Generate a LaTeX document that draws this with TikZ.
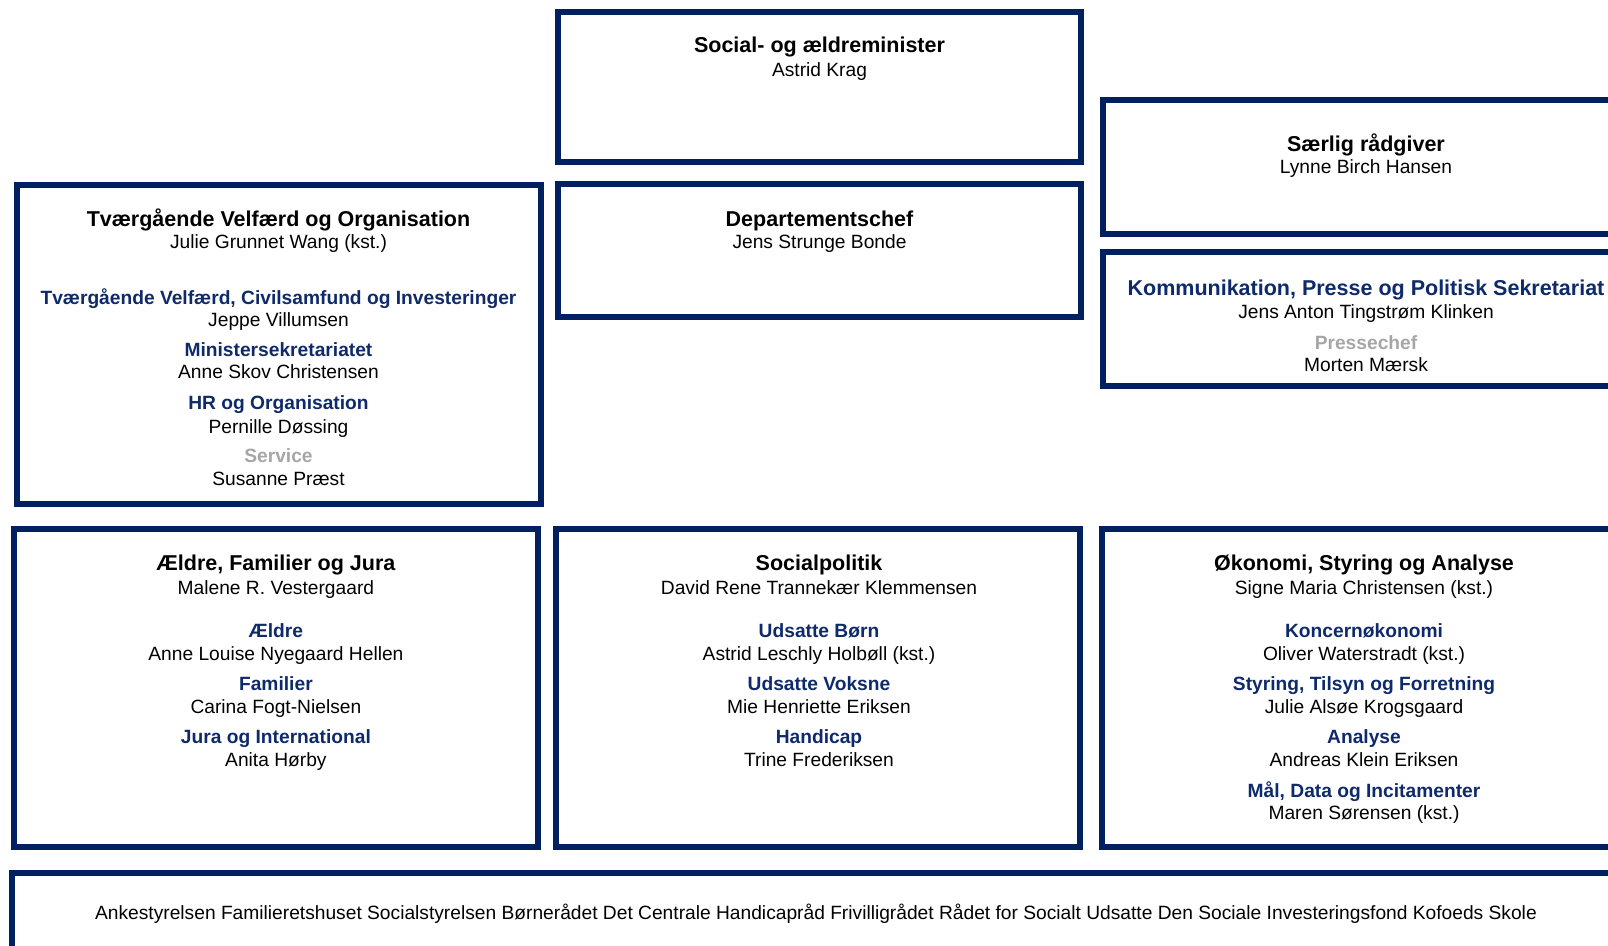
\documentclass[tikz,border=0pt]{standalone}
\usepackage{fontspec}
\setmainfont{Liberation Sans}
\definecolor{navy}{HTML}{002060}
\definecolor{subblue}{HTML}{0E2A6B}
\definecolor{greytxt}{HTML}{A6A6A6}
\tikzset{
 orgbox/.style={draw=navy, line width=6pt, inner sep=0pt, outer sep=0pt},
 ttl/.style={anchor=base, inner sep=0pt, yshift=-1.5pt, font=\fontsize{21.5}{26}\selectfont\bfseries},
 nm/.style={anchor=base, inner sep=0pt, yshift=-1.5pt, font=\fontsize{19.2}{23}\selectfont},
 sub/.style={anchor=base, inner sep=0pt, yshift=-1.5pt, text=subblue, font=\fontsize{19.2}{23}\selectfont\bfseries},
 bigsub/.style={anchor=base, inner sep=0pt, yshift=-1.5pt, text=subblue, font=\fontsize{21.5}{26}\selectfont\bfseries},
 gsub/.style={sub, text=greytxt},
}
\begin{document}
\begin{tikzpicture}[x=1pt,y=-1pt]
\useasboundingbox (0,0) rectangle (1608,945);
\clip (0,0) rectangle (1608,945);
% boxes
\node[orgbox, minimum width=523.6pt, minimum height=149.7pt] (minbox) at (819.5,86.9) {};
\node[orgbox, minimum width=523.6pt, minimum height=133.3pt] (deptbox) at (819.5,250.35) {};
\node[orgbox, minimum width=526pt, minimum height=133.6pt] (saerbox) at (1366,167.1) {};
\node[orgbox, minimum width=526pt, minimum height=133.5pt] (kommbox) at (1366,319) {};
\node[orgbox, minimum width=524pt, minimum height=319pt] (tvaerbox) at (279,344.2) {};
\node[orgbox, minimum width=524.3pt, minimum height=318.3pt] (aeldrebox) at (276.2,687.9) {};
\node[orgbox, minimum width=523.7pt, minimum height=318.3pt] (socbox) at (818.2,687.9) {};
\node[orgbox, minimum width=524pt, minimum height=318pt] (oekbox) at (1364,687.9) {};
\node[orgbox, minimum width=1608pt, minimum height=84pt] (botbox) at (816,914.8) {};
% minister
\node[ttl] (mint) at (819.5,51) {Social- og ældreminister};
\node[nm] (minn) at (819.5,75) {Astrid Krag};
% departementschef
\node[ttl] (dept) at (819.5,224.5) {Departementschef};
\node[nm] (depn) at (819.5,247) {Jens Strunge Bonde};
% saerlig
\node[ttl] (saet) at (1366,149.5) {Særlig rådgiver};
\node[nm] (saen) at (1366,172) {Lynne Birch Hansen};
% kommunikation
\node[bigsub] (komt) at (1366,293.5) {Kommunikation, Presse og Politisk Sekretariat};
\node[nm] (komn) at (1366,317) {Jens Anton Tingstrøm Klinken};
\node[gsub] (koms) at (1366,347.5) {Pressechef};
\node[nm] (komm) at (1366,370) {Morten Mærsk};
% tvaergaaende
\node[ttl] (tvt) at (278.5,224.5) {Tværgående Velfærd og Organisation};
\node[nm] (tvn) at (278.5,247) {Julie Grunnet Wang (kst.)};
\node[sub] (tvs1) at (278.5,302.5) {Tværgående Velfærd, Civilsamfund og Investeringer};
\node[nm] (tvn1) at (278.5,325) {Jeppe Villumsen};
\node[sub] (tvs2) at (278.5,354.5) {Ministersekretariatet};
\node[nm] (tvn2) at (278.5,377) {Anne Skov Christensen};
\node[sub] (tvs3) at (278.5,408) {HR og Organisation};
\node[nm] (tvn3) at (278.5,431.5) {Pernille Døssing};
\node[gsub] (tvs4) at (278.5,461) {Service};
\node[nm] (tvn4) at (278.5,484) {Susanne Præst};
% aeldre
\node[ttl] (aet) at (275.9,569) {Ældre, Familier og Jura};
\node[nm] (aen) at (275.9,592.5) {Malene R. Vestergaard};
\node[sub] (aes1) at (275.9,635.5) {Ældre};
\node[nm] (aen1) at (275.9,659) {Anne Louise Nyegaard Hellen};
\node[sub] (aes2) at (275.9,689) {Familier};
\node[nm] (aen2) at (275.9,711.5) {Carina Fogt-Nielsen};
\node[sub] (aes3) at (275.9,742) {Jura og International};
\node[nm] (aen3) at (275.9,765) {Anita Hørby};
% socialpolitik
\node[ttl] (sot) at (819,569) {Socialpolitik};
\node[nm] (son) at (819,592.5) {David Rene Trannekær Klemmensen};
\node[sub] (sos1) at (819,635.5) {Udsatte Børn};
\node[nm] (son1) at (819,659) {Astrid Leschly Holbøll (kst.)};
\node[sub] (sos2) at (819,689) {Udsatte Voksne};
\node[nm] (son2) at (819,711.5) {Mie Henriette Eriksen};
\node[sub] (sos3) at (819,742) {Handicap};
\node[nm] (son3) at (819,765) {Trine Frederiksen};
% oekonomi
\node[ttl] (okt) at (1364,569) {Økonomi, Styring og Analyse};
\node[nm] (okn) at (1364,592.5) {Signe Maria Christensen (kst.)};
\node[sub] (oks1) at (1364,635.5) {Koncernøkonomi};
\node[nm] (okn1) at (1364,659) {Oliver Waterstradt (kst.)};
\node[sub] (oks2) at (1364,689) {Styring, Tilsyn og Forretning};
\node[nm] (okn2) at (1364,711.5) {Julie Alsøe Krogsgaard};
\node[sub] (oks3) at (1364,742) {Analyse};
\node[nm] (okn3) at (1364,765) {Andreas Klein Eriksen};
\node[sub] (oks4) at (1364,795.5) {Mål, Data og Incitamenter};
\node[nm] (okn4) at (1364,818) {Maren Sørensen (kst.)};
% bottom
\node[nm] (bott) at (816,917.5) {Ankestyrelsen Familieretshuset Socialstyrelsen Børnerådet Det Centrale Handicapråd Frivilligrådet Rådet for Socialt Udsatte Den Sociale Investeringsfond Kofoeds Skole};
\end{tikzpicture}
\end{document}
